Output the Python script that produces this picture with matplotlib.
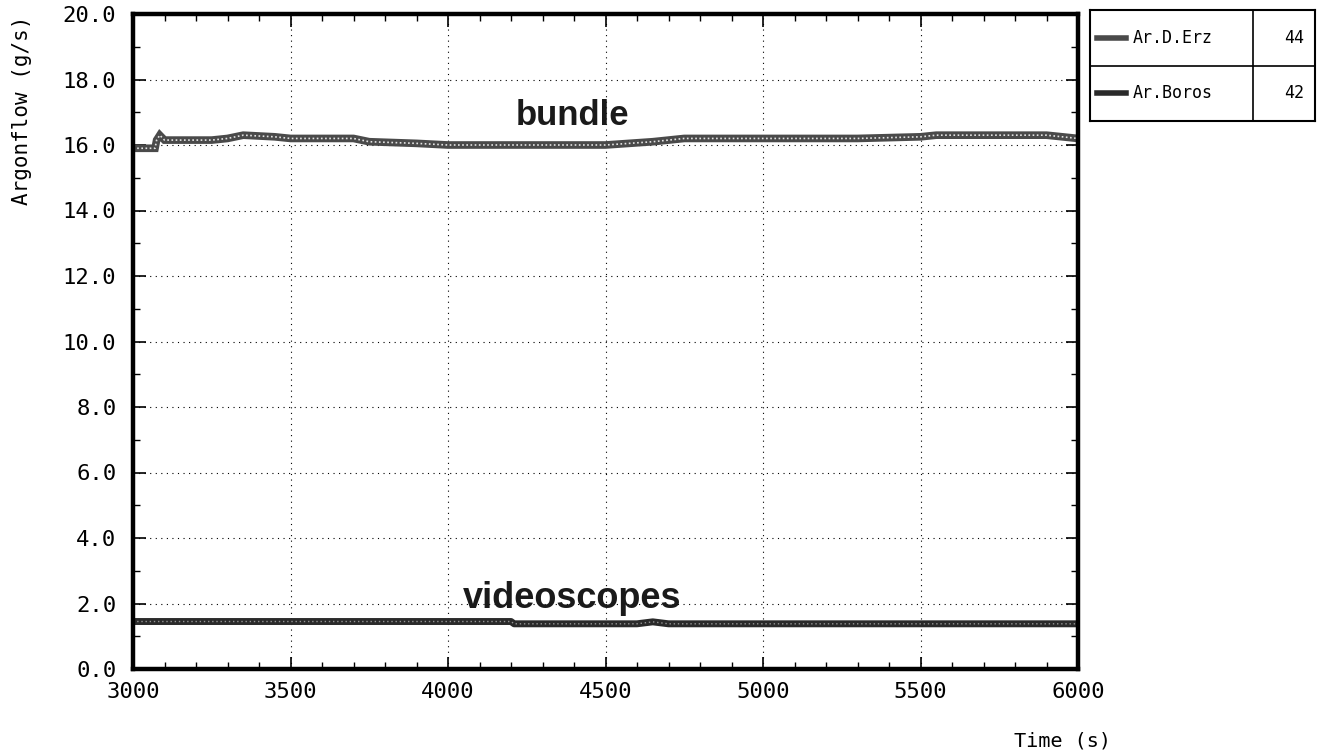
import matplotlib
matplotlib.use("Agg")
import matplotlib.pyplot as plt
from matplotlib.ticker import MultipleLocator

# Data
bundle_t = [3000, 3070, 3075, 3085, 3100, 3250, 3300, 3350, 3450, 3500, 3700, 3750, 3900,
            4000, 4500, 4650, 4750, 5000, 5300, 5500, 5550, 5900, 6000]
bundle_v = [15.9, 15.9, 16.15, 16.3, 16.15, 16.15, 16.2, 16.3, 16.25, 16.2, 16.2, 16.1, 16.05,
            16.0, 16.0, 16.1, 16.2, 16.2, 16.2, 16.25, 16.3, 16.3, 16.2]
video_t = [3000, 3500, 4000, 4200, 4210, 4600, 4650, 4700, 5000, 5500, 6000]
video_v = [1.45, 1.45, 1.45, 1.45, 1.38, 1.38, 1.44, 1.38, 1.38, 1.38, 1.38]
legend_names = ["Ar.D.Erz", "Ar.Boros"]
legend_ids = ["44", "42"]

mono = "DejaVu Sans Mono"
fig = plt.figure(figsize=(13.2, 7.55), dpi=100)
ax = fig.add_axes([133/1320, 1-669/755, (1078-133)/1320, (669-14)/755])

ax.plot(bundle_t, bundle_v, color="#4a4a4a", lw=5.5, solid_joinstyle="miter")
ax.plot(bundle_t, bundle_v, color="white", lw=1.2, ls=(0, (1, 1.5)), alpha=0.85)
ax.plot(video_t, video_v, color="#2a2a2a", lw=5)
ax.plot(video_t, video_v, color="white", lw=1, ls=(0, (1, 2)), alpha=0.5)

ax.set_xlim(3000, 6000)
ax.set_ylim(0, 20)
ax.xaxis.set_major_locator(MultipleLocator(500))
ax.xaxis.set_minor_locator(MultipleLocator(100))
ax.yaxis.set_major_locator(MultipleLocator(2))
ax.yaxis.set_minor_locator(MultipleLocator(1))
ax.yaxis.set_major_formatter(plt.FormatStrFormatter("%.1f"))
ax.grid(True, which="major", color="black", ls=(0, (1, 4)), lw=0.8)
ax.tick_params(which="both", direction="in", top=True, right=True, colors="black")
ax.tick_params(which="major", length=9, width=1.2, labelsize=16)
ax.tick_params(axis="y", which="major", pad=12)
ax.tick_params(axis="x", which="major", pad=9)
ax.tick_params(which="minor", length=5, width=1.0)
for lab in ax.get_xticklabels() + ax.get_yticklabels():
    lab.set_fontfamily(mono)
for s in ax.spines.values():
    s.set_linewidth(3.2)

fig.text(1063/1320, 1-741/755, "Time (s)", fontfamily=mono, fontsize=14.5, ha="center", va="center")
fig.text(22/1320, 1-110/755, "Argonflow (g/s)", fontfamily=mono, fontsize=15,
         rotation=90, ha="center", va="center")

ax.text(4395, 16.9, "bundle", fontfamily="Liberation Sans", fontweight="bold",
        fontsize=25, ha="center", va="center", color="#1a1a1a")
ax.text(4395, 2.15, "videoscopes", fontfamily="Liberation Sans", fontweight="bold",
        fontsize=26, ha="center", va="center", color="#1a1a1a")

# Legend box
lax = fig.add_axes([1090/1320, 1-121/755, (1315-1090)/1320, (121-10)/755])
lax.set_xlim(0, 1)
lax.set_ylim(0, 1)
lax.set_xticks([])
lax.set_yticks([])
for s in lax.spines.values():
    s.set_linewidth(1.5)
lax.axhline(0.5, color="black", lw=1.2)
sep = (1253-1090)/(1315-1090)
lax.axvline(sep, color="black", lw=1.2)
styles = [("#4a4a4a", 4), ("#2a2a2a", 4)]
for i, (name, lid) in enumerate(zip(legend_names, legend_ids)):
    yc = 0.75 - 0.5*i
    lax.plot([0.03, 0.16], [yc, yc], color=styles[i][0], lw=styles[i][1])
    lax.text(0.19, yc, name, fontfamily=mono, fontsize=12, va="center", ha="left")
    lax.text(0.95, yc, lid, fontfamily=mono, fontsize=12, va="center", ha="right")

fig.savefig("out.png", dpi=100)
